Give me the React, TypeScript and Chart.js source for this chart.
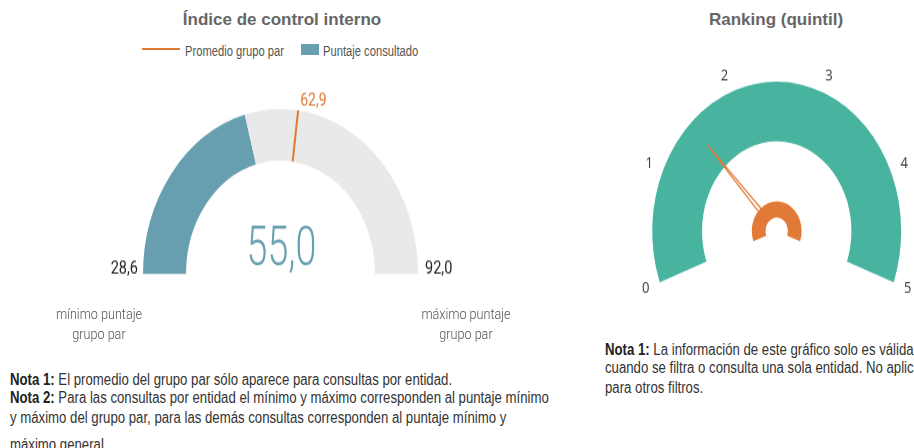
import React, { useEffect, useRef } from 'react';
import { Chart, registerables } from 'chart.js';

Chart.register(...registerables);

// ---------------- data ----------------
const indexLabels = ['Puntaje consultado', 'Resto hasta el máximo'];
const indexBounds = [28.6, 92.0]; // mínimo y máximo del grupo par
const indexScore = [55.0];
const peerAverage = [62.9];

const rankingTicks = ['0', '1', '2', '3', '4', '5'];
const rankingBounds = [0, 5];
const rankingValue = [1.5];

// ---------------- styles ----------------
const BLUE = '#689fb0';
const GRAY = '#e9e9e9';
const ORANGE = '#e07a36';
const TEAL = '#48b4a0';
const STRETCH = 1.2;

const fmt = (v: number) => v.toFixed(1).replace('.', ',');

const indexGaugePlugin = {
  id: 'indexGauge',
  afterDatasetsDraw(chart: any) {
    const { ctx } = chart;
    const meta = chart.getDatasetMeta(0);
    const first = meta.data[0];
    const last = meta.data[meta.data.length - 1];
    const { x, y, innerRadius, outerRadius, startAngle } = first.getProps(
      ['x', 'y', 'innerRadius', 'outerRadius', 'startAngle'],
      true
    );
    const { endAngle } = last.getProps(['endAngle'], true);
    const [min, max] = indexBounds;
    const ang = startAngle + ((peerAverage[0] - min) / (max - min)) * (endAngle - startAngle);
    ctx.save();
    ctx.strokeStyle = ORANGE;
    ctx.lineWidth = 2;
    ctx.beginPath();
    ctx.moveTo(x + Math.cos(ang) * innerRadius, y + Math.sin(ang) * innerRadius);
    const tipX = x + Math.cos(ang) * outerRadius;
    const tipY = y + Math.sin(ang) * outerRadius;
    ctx.lineTo(tipX, tipY);
    ctx.stroke();

    ctx.fillStyle = ORANGE;
    ctx.font = '14px Roboto';
    ctx.textAlign = 'left';
    ctx.textBaseline = 'alphabetic';
    ctx.fillText(fmt(peerAverage[0]), tipX + 2, tipY - 4);

    // min / max labels
    ctx.fillStyle = '#222';
    ctx.font = '14.5px Roboto';
    ctx.textAlign = 'right';
    ctx.fillText(fmt(min), x - outerRadius - 5, y);
    ctx.textAlign = 'left';
    ctx.fillText(fmt(max), x + outerRadius + 7, y);

    // central value
    ctx.save();
    ctx.translate(x + 1, y - 7.5);
    ctx.scale(0.8, 1);
    ctx.fillStyle = BLUE;
    ctx.font = '300 47px Roboto';
    ctx.textAlign = 'center';
    ctx.fillText(fmt(indexScore[0]), 0, 0);
    ctx.restore();
    ctx.restore();
  },
};

const rankingGaugePlugin = {
  id: 'rankingGauge',
  afterDatasetsDraw(chart: any) {
    const { ctx } = chart;
    const arc = chart.getDatasetMeta(0).data[0];
    const { x, y, outerRadius, startAngle, endAngle } = arc.getProps(
      ['x', 'y', 'outerRadius', 'startAngle', 'endAngle'],
      true
    );
    const [min, max] = rankingBounds;
    ctx.save();
    // tick labels
    ctx.fillStyle = '#333';
    ctx.font = '13px "Open Sans"';
    ctx.textAlign = 'center';
    ctx.textBaseline = 'middle';
    const n = rankingTicks.length;
    rankingTicks.forEach((t, i) => {
      const a = startAngle + (i / (n - 1)) * (endAngle - startAngle);
      const r = outerRadius + 15;
      ctx.fillText(t, x + Math.cos(a) * r, y + Math.sin(a) * r);
    });

    const hubOuter = outerRadius * 0.2;
    const hubInner = outerRadius * 0.09;

    // needle (starts at the hub's edge)
    const a = startAngle + ((rankingValue[0] - min) / (max - min)) * (endAngle - startAngle);
    const tip = outerRadius * 0.8;
    const hw = 1.8;
    const ux = Math.cos(a);
    const uy = Math.sin(a);
    const px = -uy;
    const py = ux;
    const bx = x + ux * (hubOuter - 2);
    const by = y + uy * (hubOuter - 2);
    ctx.beginPath();
    ctx.moveTo(x + ux * tip, y + uy * tip);
    ctx.lineTo(bx + px * hw, by + py * hw);
    ctx.lineTo(bx - px * hw, by - py * hw);
    ctx.closePath();
    ctx.fillStyle = '#ffffff';
    ctx.fill();
    ctx.strokeStyle = ORANGE;
    ctx.lineWidth = 1.2;
    ctx.stroke();

    // hub
    ctx.beginPath();
    ctx.arc(x, y, hubOuter, startAngle, endAngle);
    ctx.arc(x, y, hubInner, endAngle, startAngle, true);
    ctx.closePath();
    ctx.fillStyle = ORANGE;
    ctx.fill();
    ctx.restore();
  },
};

const abs = (o: React.CSSProperties): React.CSSProperties => ({ position: 'absolute', margin: 0, ...o });

export default function App() {
  const leftRef = useRef<HTMLCanvasElement | null>(null);
  const rightRef = useRef<HTMLCanvasElement | null>(null);

  useEffect(() => {
    document.body.style.margin = '0';
    const [min, max] = indexBounds;
    const left = new Chart(leftRef.current as HTMLCanvasElement, {
      type: 'doughnut',
      data: {
        labels: indexLabels,
        datasets: [
          {
            data: [indexScore[0] - min, max - indexScore[0]],
            backgroundColor: [BLUE, GRAY],
            borderWidth: 0,
            hoverBorderWidth: 0,
            hoverOffset: 0,
            offset: 0,
          } as any,
        ],
      },
      options: {
        responsive: false,
        animation: false,
        events: [],
        rotation: -90,
        circumference: 180,
        cutout: '68.7%',
        layout: { padding: { left: 143, right: 172, top: 30.8, bottom: 31.7 } },
        plugins: { legend: { display: false }, tooltip: { enabled: false }, title: { display: false } },
      } as any,
      plugins: [indexGaugePlugin],
    });

    const [rmin, rmax] = rankingBounds;
    const right = new Chart(rightRef.current as HTMLCanvasElement, {
      type: 'doughnut',
      data: {
        labels: ['Quintil'],
        datasets: [
          {
            data: [rmax - rmin],
            backgroundColor: [TEAL],
            borderWidth: 0,
            hoverBorderWidth: 0,
            hoverOffset: 0,
            offset: 0,
          } as any,
        ],
      },
      options: {
        responsive: false,
        animation: false,
        events: [],
        rotation: -110,
        circumference: 220,
        cutout: '60%',
        layout: { padding: { left: 56.2, right: 12.8, top: 28, bottom: 24.8 } },
        plugins: { legend: { display: false }, tooltip: { enabled: false }, title: { display: false } },
      } as any,
      plugins: [rankingGaugePlugin],
    });

    return () => {
      left.destroy();
      right.destroy();
    };
  }, []);

  const titleStyle: React.CSSProperties = {
    fontFamily: 'Arial, "Liberation Sans", sans-serif',
    fontWeight: 'bold',
    fontSize: 17,
    lineHeight: '20px',
    color: '#666',
    textAlign: 'center',
    whiteSpace: 'nowrap',
  };
  const legendText: React.CSSProperties = {
    fontFamily: 'Arial, "Liberation Sans", sans-serif',
    fontSize: 14,
    lineHeight: '16px',
    color: '#555',
    whiteSpace: 'nowrap',
    transform: 'scaleX(0.8)',
    transformOrigin: '0 0',
  };
  const subLabel: React.CSSProperties = {
    fontFamily: 'Roboto, sans-serif',
    fontWeight: 300,
    fontSize: 14,
    lineHeight: '20px',
    color: '#555',
    textAlign: 'center',
    whiteSpace: 'nowrap',
    width: 140,
    transform: 'scaleX(0.9)',
  };
  const noteStyle: React.CSSProperties = {
    fontFamily: 'Arial, "Liberation Sans", sans-serif',
    fontSize: 13.2,
    lineHeight: '15.4px',
    color: '#333',
    whiteSpace: 'nowrap',
    transform: `scaleY(${STRETCH})`,
    transformOrigin: '0 0',
  };
  const b: React.CSSProperties = { fontWeight: 'bold', color: '#222' };

  return (
    <div
      style={{
        position: 'fixed',
        left: 0,
        top: 0,
        width: 914,
        height: 448,
        overflow: 'hidden',
        background: '#fff',
      }}
    >
      <div style={abs({ ...titleStyle, left: 82, top: 10, width: 400 })}>Índice de control interno</div>
      <div style={abs({ ...titleStyle, left: 676, top: 10, width: 200 })}>Ranking (quintil)</div>

      <div style={abs({ left: 142, top: 47.5, width: 38, height: 2.5, background: ORANGE })} />
      <div style={abs({ ...legendText, left: 185, top: 43.4 })}>Promedio grupo par</div>
      <div style={abs({ left: 301, top: 44, width: 18, height: 11, background: BLUE })} />
      <div style={abs({ ...legendText, left: 322.7, top: 43.4 })}>Puntaje consultado</div>

      <canvas
        ref={leftRef}
        width={590}
        height={200}
        style={{ position: 'absolute', left: 0, top: 72, width: 590, height: 200 * STRETCH }}
      />
      <canvas
        ref={rightRef}
        width={318}
        height={220}
        style={{ position: 'absolute', left: 596, top: 48, width: 318, height: 220 * STRETCH }}
      />

      <div style={abs({ ...subLabel, left: 98.5 - 70, top: 304.2 })}>
        mínimo puntaje
        <br />
        grupo par
      </div>
      <div style={abs({ ...subLabel, left: 466 - 70, top: 304.2 })}>
        máximo puntaje
        <br />
        grupo par
      </div>

      <div style={abs({ ...noteStyle, left: 10, top: 370.5 })}>
        <span style={b}>Nota 1:</span> El promedio del grupo par sólo aparece para consultas por entidad.
        <br />
        <span style={b}>Nota 2:</span> Para las consultas por entidad el mínimo y máximo corresponden al puntaje mínimo
        <br />
        y máximo del grupo par, para las demás consultas corresponden al puntaje mínimo y
      </div>
      <div style={abs({ ...noteStyle, left: 10, top: 435.5 })}>máximo general.</div>

      <div style={abs({ ...noteStyle, left: 605, top: 341.2 })}>
        <span style={b}>Nota 1:</span> La información de este gráfico solo es válida
        <br />
        cuando se filtra o consulta una sola entidad. No aplica
        <br />
        para otros filtros.
      </div>
    </div>
  );
}
